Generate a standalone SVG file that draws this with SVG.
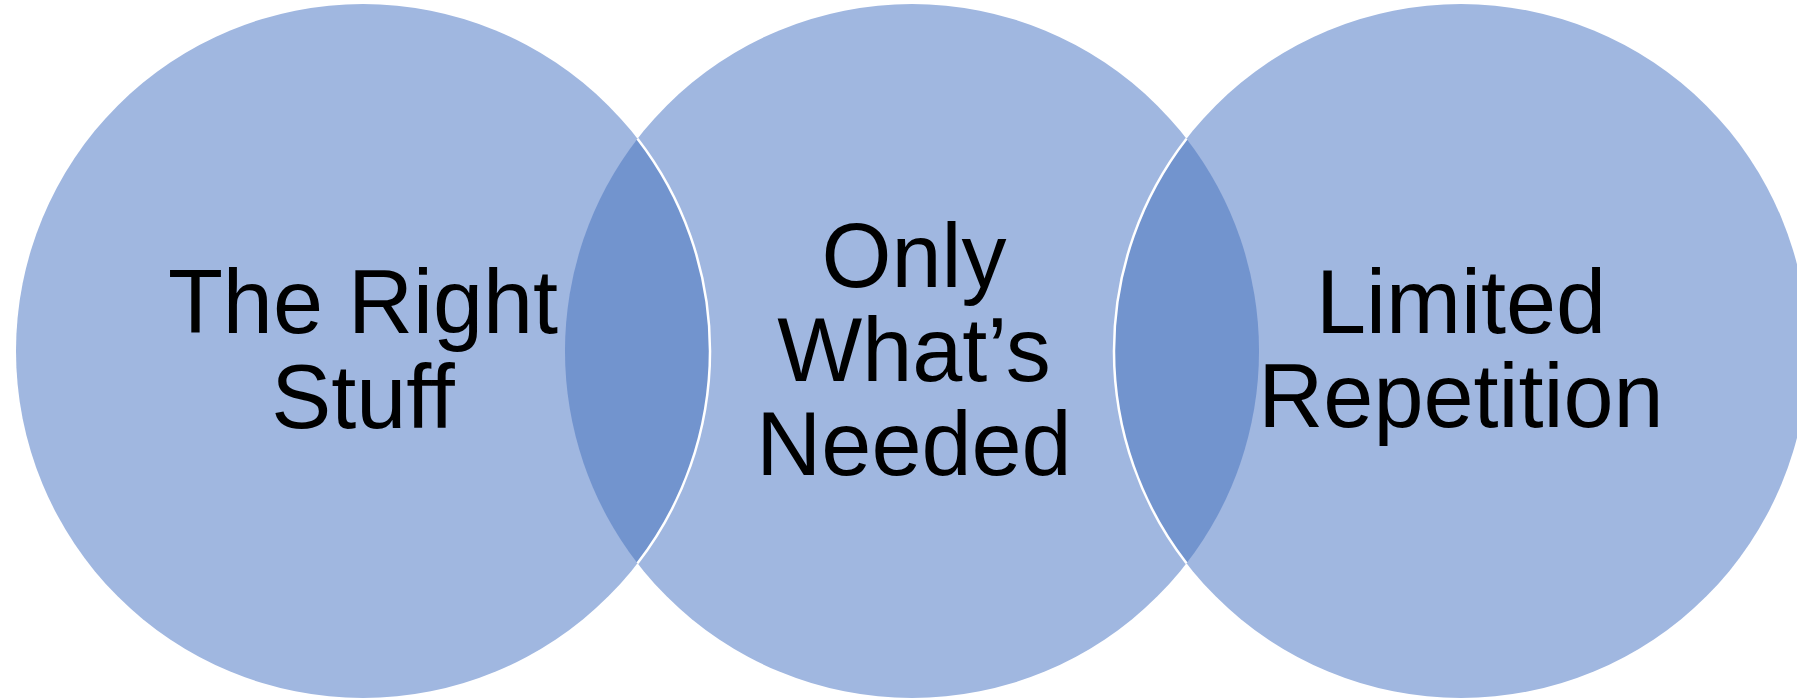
<svg xmlns="http://www.w3.org/2000/svg" width="1797" height="700" viewBox="0 0 1797 700">
  <style>
    .circle { fill: #A0B7E0; }
    .lens { fill: #7294CE; }
    .edge { fill: none; stroke: #FFFFFF; stroke-width: 2.5; }
    .label { font-family: "Liberation Sans", Arial, sans-serif; font-size: 90px; fill: #000000; text-anchor: middle; }
  </style>
  <rect x="0" y="0" width="1797" height="700" fill="#FFFFFF"/>
  <g id="circle-left">
    <circle class="circle" cx="363" cy="351" r="347"/>
  </g>
  <g id="circle-middle">
    <circle class="circle" cx="912" cy="351" r="347"/>
  </g>
  <g id="circle-right">
    <circle class="circle" cx="1461" cy="351" r="347"/>
  </g>
  <g id="overlaps">
    <path class="lens" d="M 637.5 138.7 A 347 347 0 0 1 637.5 563.3 A 347 347 0 0 1 637.5 138.7 Z"/>
    <path class="lens" d="M 1186.5 138.7 A 347 347 0 0 1 1186.5 563.3 A 347 347 0 0 1 1186.5 138.7 Z"/>
    <path class="edge" d="M 637.5 138.7 A 347 347 0 0 1 637.5 563.3"/>
    <path class="edge" d="M 1186.5 563.3 A 347 347 0 0 1 1186.5 138.7"/>
  </g>
  <g id="label-left">
    <text class="label" x="363" y="333">The Right</text>
    <text class="label" x="363" y="428">Stuff</text>
  </g>
  <g id="label-middle">
    <text class="label" x="914" y="287">Only</text>
    <text class="label" x="914" y="381">What’s</text>
    <text class="label" x="914" y="475">Needed</text>
  </g>
  <g id="label-right">
    <text class="label" x="1461" y="333">Limited</text>
    <text class="label" x="1461" y="427">Repetition</text>
  </g>
</svg>
